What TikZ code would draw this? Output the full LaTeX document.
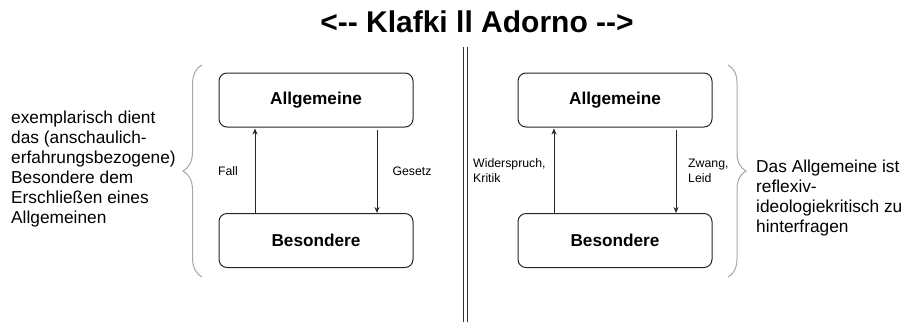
\documentclass[tikz,border=0pt]{standalone}
\usepackage{fontspec}
\setmainfont{Liberation Sans}
\usetikzlibrary{arrows.meta,decorations.pathreplacing}

\begin{document}
\begin{tikzpicture}[
    x=1pt, y=-1pt,
    % Knoten
    concept box/.style={draw=black!85, line width=1pt, rounded corners=8pt, minimum width=194pt, minimum height=54pt, inner sep=0pt, font=\fontsize{17.2}{20}\selectfont\bfseries},
    side text/.style={align=left, inner sep=0pt, font=\fontsize{17.3}{20}\selectfont},
    edge label/.style={align=left, inner sep=0pt, font=\fontsize{12.3}{15}\selectfont},
    % Linien
    flow/.style={draw=black!85, line width=0.9pt, -{Stealth[length=6pt,width=5pt]}},
    curly/.style={draw=black!35, line width=1pt, decorate, decoration={brace, amplitude=#1}},
    divider/.style={draw=black!80, line width=1pt}
]
\useasboundingbox (0,0) rectangle (908,322);

% Titel
\node[font=\fontsize{30}{32}\selectfont\bfseries, anchor=base, inner sep=0pt] (title) at (477,32.5) {<-\kern0pt- Klafki ll Adorno -\kern0pt->};

% Doppelte Trennlinie
\coordinate (sepAtop) at (463,47); \coordinate (sepAbot) at (463,322);
\coordinate (sepBtop) at (467,47); \coordinate (sepBbot) at (467,322);
\draw[divider] (sepAtop) -- (sepAbot);
\draw[divider] (sepBtop) -- (sepBbot);

% Klafki (links)
\node[concept box] (allgK) at (316,100) {Allgemeine};
\node[concept box] (besK) at (316,240.5) {Besondere};
\draw[flow] ([xshift=-61pt]besK.north) -- ([xshift=-61pt,yshift=-1pt]allgK.south);
\draw[flow] ([xshift=61pt,yshift=-2pt]allgK.south) -- ([xshift=61pt]besK.north);
\node[edge label] (fallLbl) at (228,171) {Fall};
\node[edge label] (gesetzLbl) at (412,171) {Gesetz};

\coordinate (braceKtop) at (202,65); \coordinate (braceKbot) at (202,277);
\draw[curly=19pt] (braceKbot) -- (braceKtop);
\node[side text, anchor=west] (klafkiText) at (11,169.5) {exemplarisch dient\\das (anschaulich-\\erfahrungsbezogene)\\Besondere dem\\Erschließen eines\\Allgemeinen};

% Adorno (rechts)
\node[concept box] (allgA) at (615,100) {Allgemeine};
\node[concept box] (besA) at (615,240.5) {Besondere};
\draw[flow] ([xshift=-61pt]besA.north) -- ([xshift=-61pt,yshift=-1pt]allgA.south);
\draw[flow] ([xshift=61pt,yshift=-2pt]allgA.south) -- ([xshift=61pt]besA.north);
\node[edge label, anchor=west] (kritikLbl) at (473,171) {Widerspruch,\\Kritik};
\node[edge label, anchor=west] (leidLbl) at (688,171) {Zwang,\\Leid};

\coordinate (braceAtop) at (728,65); \coordinate (braceAbot) at (728,277);
\draw[curly=18pt] (braceAtop) -- (braceAbot);
\node[side text, anchor=west] (adornoText) at (756,198) {Das Allgemeine ist\\reflexiv-\\ideologiekritisch zu\\hinterfragen};

\end{tikzpicture}
\end{document}
